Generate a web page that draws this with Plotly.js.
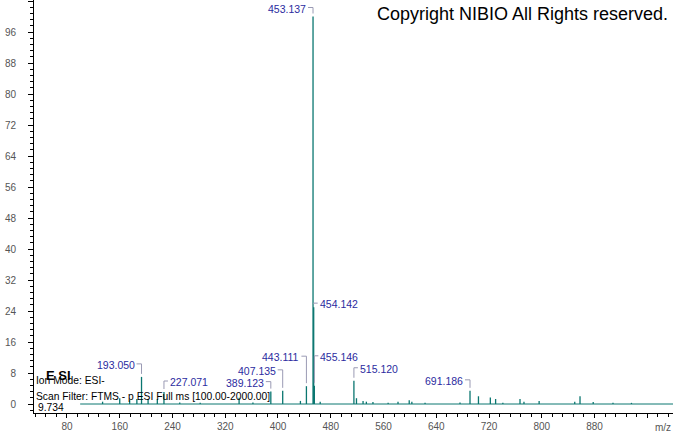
<!DOCTYPE html>
<html>
<head>
<meta charset="utf-8">
<script src="https://cdn.plot.ly/plotly-3.0.1.min.js"></script>
<style>html,body{margin:0;padding:0;background:#fff;}#chart{width:673px;height:433px;}</style>
</head>
<body>
<div id="chart"></div>
<script>
// ---- data ----
const labeledMz = [193.050, 227.071, 389.123, 407.135, 443.111, 453.137, 454.142, 455.146, 515.120, 691.186];
const labeledInt = [7.0, 3.1, 3.2, 3.4, 4.6, 100, 25.0, 4.7, 6.0, 3.4];
const minorMz = [134, 160, 175, 186, 203, 217, 251, 282, 341, 362, 434, 464, 519, 529, 534, 544, 567, 582, 599, 603, 623, 676, 704, 722, 730, 741, 767, 773, 796, 850, 858, 878, 908, 936];
const minorInt = [0.6, 1.5, 1.0, 1.3, 1.2, 1.3, 0.4, 0.3, 1.6, 0.4, 0.8, 0.6, 1.5, 0.8, 0.6, 0.5, 0.3, 0.6, 1.0, 0.6, 0.3, 0.4, 2.0, 1.7, 1.3, 0.3, 1.3, 0.6, 0.8, 0.6, 2.0, 0.5, 0.3, 0.3];
const scanStart = 100, scanEnd = 1000;
const xTickVals = [80, 160, 240, 320, 400, 480, 560, 640, 720, 800, 880, 960];
const xTickText = ['80', '160', '240', '320', '400', '480', '560', '640', '720', '800', '880', ''];
const xTickStep = 80, yTickStep = 8;

// ---- label placement (layout only) ----
const labelSide = ['L', 'R', 'L', 'L', 'L', 'L', 'R', 'R', 'R', 'L'];
const labelLift = [12, 10, 9, 20, 29, 8, 3, 29, 12, 10];

const peakColor = '#0a7670';
const labelColor = '#2b2ba0';
const leaderColor = '#9a9ab4';
const font = 'Liberation Sans, Arial, sans-serif';

const allMz = labeledMz.concat(minorMz);
const allInt = labeledInt.concat(minorInt);
const sx = [], sy = [];
allMz.forEach((m, i) => { sx.push(m, m, null); sy.push(0, allInt[i], null); });

const traces = [
  {x: [scanStart, scanEnd], y: [0, 0], mode: 'lines', line: {color: peakColor, width: 1}, hoverinfo: 'skip'},
  {x: sx, y: sy, mode: 'lines', line: {color: peakColor, width: 1.3}, connectgaps: false, hoverinfo: 'skip'}
];

const shapes = [];
const annotations = [];
labeledMz.forEach((m, i) => {
  const h = labeledInt[i];
  const lift = labelLift[i];
  const left = labelSide[i] === 'L';
  const dx = left ? -5 : 4;
  const gap = 3;
  const y0 = Math.min(gap, lift);
  shapes.push({
    type: 'path', xref: 'x', yref: 'y', xsizemode: 'pixel', ysizemode: 'pixel',
    xanchor: m, yanchor: h,
    path: `M 0 ${y0} L 0 ${lift + 1} L ${dx} ${lift + 1}`,
    line: {color: leaderColor, width: 1}
  });
  annotations.push({
    x: m, y: h, xref: 'x', yref: 'y', showarrow: false,
    text: m.toFixed(3), xanchor: left ? 'right' : 'left', yanchor: 'middle',
    xshift: left ? -5 : 4, yshift: lift,
    font: {family: font, size: 10.5, color: labelColor}
  });
});

annotations.push(
  {xref: 'paper', yref: 'paper', x: 0.995, y: 0.966, xanchor: 'right', yanchor: 'middle', showarrow: false,
   text: 'Copyright NIBIO All Rights reserved.', font: {family: font, size: 18, color: '#000'}},
  {xref: 'paper', yref: 'paper', x: 0.016, y: 0.0896, xanchor: 'left', yanchor: 'middle', showarrow: false,
   text: '<b>E SI</b>', font: {family: font, size: 13, color: '#000'}},
  {xref: 'paper', yref: 'paper', x: 0.0, y: 0.0775, xanchor: 'left', yanchor: 'middle', showarrow: false,
   text: 'Ion Mode: ESI-', font: {family: font, size: 10.3, color: '#000'}},
  {xref: 'paper', yref: 'paper', x: 0.0, y: 0.041, xanchor: 'left', yanchor: 'middle', showarrow: false,
   text: 'Scan Filter: FTMS - p ESI Full ms [100.00-2000.00]', font: {family: font, size: 10.3, color: '#000'}},
  {xref: 'paper', yref: 'paper', x: 0.003, y: 0.0145, xanchor: 'left', yanchor: 'middle', showarrow: false,
   text: '9.734', font: {family: font, size: 10.3, color: '#000'}},
  {xref: 'paper', yref: 'paper', x: 1.0, y: -0.034, xanchor: 'right', yanchor: 'middle', showarrow: false,
   text: 'm/z', font: {family: font, size: 10, color: '#555'}}
);

const axisCommon = {
  showline: true, linecolor: '#000', linewidth: 1, showgrid: false, zeroline: false,
  ticks: 'outside', ticklen: 5, tickcolor: '#000', tickwidth: 1,
  tickfont: {family: font, size: 10, color: '#555'}
};

const layout = {
  width: 673, height: 433,
  margin: {l: 34, r: 0, t: 0, b: 20, pad: 0},
  paper_bgcolor: '#fff', plot_bgcolor: '#fff', showlegend: false,
  xaxis: Object.assign({}, axisCommon, {range: [30, 999], tickmode: 'array', tickvals: xTickVals, ticktext: xTickText,
    ticklen: 4, ticklabelstandoff: 0, automargin: false,
    minor: {tickmode: 'linear', dtick: xTickStep / 5, tick0: 0, ticks: 'outside', ticklen: 3, tickcolor: '#000', showgrid: false}}),
  yaxis: Object.assign({}, axisCommon, {range: [-2.32, 104.26], tickmode: 'linear', tick0: 0, dtick: yTickStep, ticklabelstandoff: 10,
    minor: {dtick: yTickStep / 5, tick0: 0, ticks: 'outside', ticklen: 3, tickcolor: '#000', showgrid: false}}),
  shapes: shapes,
  annotations: annotations
};

Plotly.newPlot('chart', traces, layout, {staticPlot: true, displayModeBar: false});
</script>
</body>
</html>
